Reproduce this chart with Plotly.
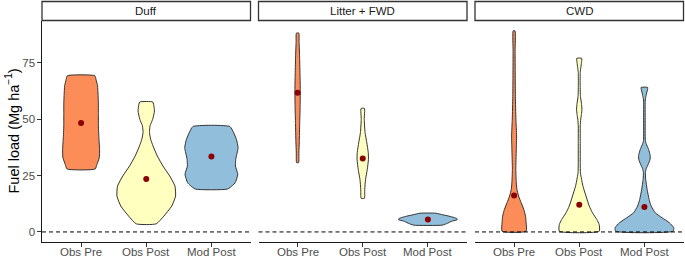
import numpy as np
import plotly.graph_objects as go

# ---------------- data ----------------
facets = ["Duff", "Litter + FWD", "CWD"]
groups = ["Obs Pre", "Obs Post", "Mod Post"]
fill_colors = ["#FC8D59", "#FFFFBF", "#91BFDB"]
y_ticks = [0, 25, 50, 75]

# violin density profiles: fuel load level (Mg/ha) and scaled density (1 = widest in panel)
duff_pre_y = [27.9, 29.9, 32.9, 36.6, 41.1, 47.0, 52.0, 57.0, 60.4, 64.8, 67.5, 69.2]
duff_pre_d = [0.48, 0.54, 0.62, 0.63, 0.61, 0.59, 0.59, 0.59, 0.58, 0.56, 0.51, 0.47]
duff_post_y = [3.6, 7.0, 11.5, 15.9, 20.3, 24.8, 29.2, 33.6, 38.1, 41.1, 44.0, 47.0, 49.9, 53.6, 56.6, 57.6]
duff_post_d = [0.34, 0.60, 0.87, 1.00, 0.98, 0.80, 0.57, 0.38, 0.23, 0.15, 0.11, 0.13, 0.22, 0.28, 0.25, 0.22]
duff_mod_y = [19.0, 20.6, 21.8, 25.5, 29.2, 32.2, 37.4, 41.1, 43.9, 46.7]
duff_mod_d = [0.55, 0.72, 0.81, 0.90, 0.82, 0.83, 0.91, 0.85, 0.76, 0.63]

lit_pre_y = [30.7, 35.0, 40.0, 48.0, 55.0, 62.0, 70.0, 78.0, 84.0, 88.1]
lit_pre_d = [0.034, 0.044, 0.058, 0.072, 0.085, 0.092, 0.082, 0.068, 0.051, 0.041]
lit_post_y = [14.9, 18.9, 23.3, 27.7, 32.2, 35.2, 39.6, 44.0, 49.9, 54.7]
lit_post_d = [0.055, 0.068, 0.096, 0.154, 0.195, 0.188, 0.137, 0.079, 0.051, 0.058]
lit_mod_y = [3.0, 3.4, 3.9, 4.4, 4.9, 5.4, 5.9, 6.4, 7.0, 7.6, 8.3]
lit_mod_d = [0.48, 0.58, 0.68, 0.75, 0.85, 1.00, 0.99, 0.89, 0.72, 0.51, 0.27]

cwd_pre_y = [0.3, 4.1, 7.0, 10.0, 13.0, 15.9, 18.9, 21.8, 27.7, 36.6, 42.5, 50.0, 60.0, 70.0, 80.0, 89.1]
cwd_pre_d = [0.41, 0.41, 0.39, 0.33, 0.24, 0.154, 0.096, 0.075, 0.058, 0.075, 0.085, 0.062, 0.044, 0.038, 0.034, 0.031]
cwd_post_y = [0.3, 3.3, 5.5, 8.5, 11.5, 15.9, 20.3, 24.8, 26.2, 30.0, 40.0, 47.0, 50.0, 52.0, 54.4, 57.0, 60.0, 65.0, 70.7, 73.0, 75.0, 76.9]
cwd_post_d = [0.68, 0.68, 0.60, 0.45, 0.34, 0.23, 0.126, 0.058, 0.041, 0.034, 0.034, 0.034, 0.051, 0.075, 0.092, 0.075, 0.041, 0.031, 0.034, 0.055, 0.075, 0.085]
cwd_mod_y = [0.3, 1.9, 4.1, 6.3, 8.5, 11.5, 14.4, 18.9, 23.3, 26.3, 28.0, 30.0, 32.0, 33.5, 35.0, 37.0, 39.0, 40.5, 50.0, 58.0, 60.0, 62.0, 64.0]
cwd_mod_d = [0.98, 1.00, 0.85, 0.60, 0.37, 0.23, 0.16, 0.092, 0.044, 0.034, 0.062, 0.13, 0.19, 0.20, 0.178, 0.13, 0.062, 0.031, 0.027, 0.027, 0.051, 0.085, 0.113]

# group means (red points)
duff_means = [48.3, 23.5, 33.4]
litter_means = [61.7, 32.5, 5.5]
cwd_means = [16.1, 12.1, 11.0]

profiles = [
    [(duff_pre_y, duff_pre_d), (duff_post_y, duff_post_d), (duff_mod_y, duff_mod_d)],
    [(lit_pre_y, lit_pre_d), (lit_post_y, lit_post_d), (lit_mod_y, lit_mod_d)],
    [(cwd_pre_y, cwd_pre_d), (cwd_post_y, cwd_post_d), (cwd_mod_y, cwd_mod_d)],
]
means = [duff_means, litter_means, cwd_means]

# ---------------- figure ----------------
W, H = 685, 258
FONT = "Liberation Sans, Arial, Helvetica, sans-serif"
HALF = 0.45  # max half width of a violin in category units
panels_px = [(42, 250.5), (258.5, 467), (475, 683.5)]
y_bot_px, y_top_px = 242, 21
y_range = [-4.45, 93.45]

fig = go.Figure()
for fi in range(3):
    xa = "x" if fi == 0 else f"x{fi+1}"
    ya = "y" if fi == 0 else f"y{fi+1}"
    for gi in range(3):
        yv = np.array(profiles[fi][gi][0], dtype=float)
        dv = np.array(profiles[fi][gi][1], dtype=float) * HALF
        pos = gi + 1
        xs = np.concatenate([pos - dv, (pos + dv)[::-1], [pos - dv[0]]])
        ys = np.concatenate([yv, yv[::-1], [yv[0]]])
        fig.add_trace(go.Scatter(
            x=xs, y=ys, mode="lines", fill="toself", fillcolor=fill_colors[gi],
            line=dict(color="#333333", width=1, shape="spline", smoothing=0.5),
            xaxis=xa, yaxis=ya, hoverinfo="skip", showlegend=False))
    fig.add_trace(go.Scatter(
        x=[1, 2, 3], y=means[fi], mode="markers",
        marker=dict(color="#8B0000", size=6),
        xaxis=xa, yaxis=ya, showlegend=False, hoverinfo="skip"))

layout = dict(
    width=W, height=H, margin=dict(l=0, r=0, t=0, b=0, autoexpand=False),
    plot_bgcolor="white", paper_bgcolor="white",
    font=dict(family=FONT, color="#4D4D4D", size=11.5),
    showlegend=False,
)
ydom = [(H - y_bot_px) / H, (H - y_top_px) / H]
for fi, (a, b) in enumerate(panels_px):
    sfx = "" if fi == 0 else str(fi + 1)
    layout[f"xaxis{sfx}"] = dict(
        domain=[a / W, b / W], range=[0.4, 3.6], anchor=f"y{sfx}",
        tickvals=[1, 2, 3], showticklabels=False, showgrid=False, zeroline=False,
        showline=True, linecolor="#1A1A1A", linewidth=1.1, automargin=False,
        ticks="outside", ticklen=3.5, tickcolor="#333333", tickwidth=1,
    )
    ycfg = dict(domain=ydom, range=y_range, anchor=f"x{sfx}", showgrid=False,
                zeroline=False, automargin=False)
    if fi == 0:
        ycfg.update(tickvals=y_ticks, showline=True, linecolor="#1A1A1A", linewidth=1.1,
                    ticks="outside", ticklen=3.5, tickcolor="#333333", tickwidth=1,
                    tickfont=dict(size=11.5, color="#4D4D4D", family=FONT))
    else:
        ycfg.update(matches="y", showticklabels=False, showline=False, ticks="")
    layout[f"yaxis{sfx}"] = ycfg

shapes = []
annotations = []
for fi, (a, b) in enumerate(panels_px):
    sfx = "" if fi == 0 else str(fi + 1)
    # zero reference line
    shapes.append(dict(type="line", xref=f"x{sfx} domain", yref=f"y{sfx}",
                       x0=0, x1=1, y0=0, y1=0, layer="above",
                       line=dict(color="black", width=1, dash="4px,3px")))
    # strip box
    shapes.append(dict(type="rect", xref="paper", yref="paper",
                       x0=a / W, x1=b / W, y0=(H - 20.5) / H, y1=(H - 1.5) / H,
                       fillcolor="white", line=dict(color="#333333", width=1.3)))
    annotations.append(dict(text=facets[fi], xref="paper", yref="paper",
                            x=(a + b) / 2 / W, y=(H - 11) / H, showarrow=False,
                            xanchor="center", yanchor="middle",
                            font=dict(size=11.5, color="#1A1A1A", family=FONT)))
    # category tick labels
    for gi, g in enumerate(groups):
        annotations.append(dict(text=g, xref=f"x{sfx}", yref="paper",
                                x=gi + 1, y=(H - 251.5) / H, showarrow=False,
                                xanchor="center", yanchor="middle",
                                font=dict(size=11.5, color="#4D4D4D", family=FONT)))
annotations.append(dict(text="Fuel load (Mg ha<sup>−1</sup>)", xref="paper", yref="paper",
                        x=12 / W, y=(H - 131.5) / H, textangle=-90, showarrow=False,
                        xanchor="center", yanchor="middle",
                        font=dict(size=14.5, color="black", family=FONT)))
layout["shapes"] = shapes
layout["annotations"] = annotations
fig.update_layout(**layout)
fig.write_html("out.html", config={"displayModeBar": False},
               post_script="document.body.style.margin='0';")
